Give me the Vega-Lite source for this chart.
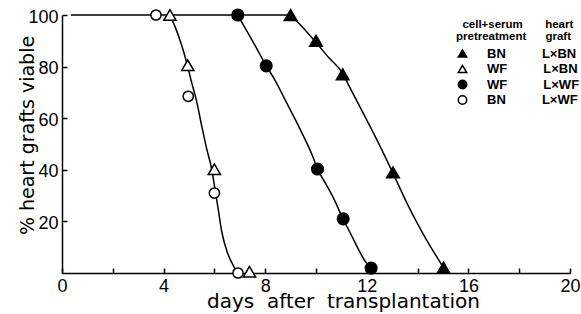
{
  "$schema": "https://vega.github.io/schema/vega-lite/v6.json",
  "width": 508,
  "height": 258,
  "autosize": {"type": "none"},
  "padding": {"left": 62, "top": 15, "right": 11, "bottom": 41},
  "background": "white",
  "config": {
    "view": {"stroke": null},
    "legend": {
      "orient": "none", "legendX": 394, "legendY": 4,
      "titleFont": "Liberation Sans", "titleFontSize": 11.5, "titleFontWeight": "bold", "titleColor": "black",
      "titleLineHeight": 12, "titlePadding": 4.5, "titleAlign": "left",
      "labelFont": "Liberation Sans", "labelFontSize": 13, "labelFontWeight": "bold", "labelColor": "black",
      "labelOffset": 18, "labelLimit": 300,
      "symbolSize": 70, "symbolStrokeWidth": 1.5, "rowPadding": 0.5
    }
  },
  "datasets": {
    "obs": [
      {"group": "A", "day": 9.0, "pct": 100},
      {"group": "A", "day": 10.0, "pct": 90},
      {"group": "A", "day": 11.05, "pct": 77},
      {"group": "A", "day": 13.03, "pct": 39},
      {"group": "A", "day": 15.02, "pct": 2},
      {"group": "B", "day": 4.25, "pct": 100},
      {"group": "B", "day": 4.95, "pct": 80.5},
      {"group": "B", "day": 6.0, "pct": 40.2},
      {"group": "B", "day": 7.38, "pct": 0.5},
      {"group": "C", "day": 6.92, "pct": 100},
      {"group": "C", "day": 8.04, "pct": 80.3},
      {"group": "C", "day": 10.06, "pct": 40.3},
      {"group": "C", "day": 11.07, "pct": 21},
      {"group": "C", "day": 12.17, "pct": 1.9},
      {"group": "D", "day": 3.7, "pct": 100},
      {"group": "D", "day": 4.97, "pct": 68.5},
      {"group": "D", "day": 6.0, "pct": 31},
      {"group": "D", "day": 6.93, "pct": 0}
    ],
    "curves": [
      {"curve": "top", "day": 0.35, "pct": 100},
      {"curve": "top", "day": 8.99, "pct": 100},
      {"curve": "open", "day": 4.24, "pct": 100},
      {"curve": "open", "day": 4.45, "pct": 95.5},
      {"curve": "open", "day": 4.72, "pct": 88},
      {"curve": "open", "day": 4.95, "pct": 80},
      {"curve": "open", "day": 5.1, "pct": 74},
      {"curve": "open", "day": 5.29, "pct": 67},
      {"curve": "open", "day": 5.5, "pct": 57},
      {"curve": "open", "day": 5.7, "pct": 48},
      {"curve": "open", "day": 5.9, "pct": 40},
      {"curve": "open", "day": 6.03, "pct": 32},
      {"curve": "open", "day": 6.13, "pct": 26},
      {"curve": "open", "day": 6.3, "pct": 15.5},
      {"curve": "open", "day": 6.52, "pct": 7.7},
      {"curve": "open", "day": 6.76, "pct": 2.6},
      {"curve": "open", "day": 6.93, "pct": 0},
      {"curve": "wfwf", "day": 6.91, "pct": 100},
      {"curve": "wfwf", "day": 7.15, "pct": 96},
      {"curve": "wfwf", "day": 7.61, "pct": 88},
      {"curve": "wfwf", "day": 8.04, "pct": 80.3},
      {"curve": "wfwf", "day": 8.4, "pct": 74.5},
      {"curve": "wfwf", "day": 8.79, "pct": 67},
      {"curve": "wfwf", "day": 9.39, "pct": 55.4},
      {"curve": "wfwf", "day": 9.9, "pct": 44.5},
      {"curve": "wfwf", "day": 10.06, "pct": 40.3},
      {"curve": "wfwf", "day": 10.37, "pct": 34.8},
      {"curve": "wfwf", "day": 10.69, "pct": 29},
      {"curve": "wfwf", "day": 11.06, "pct": 21},
      {"curve": "wfwf", "day": 11.35, "pct": 15.5},
      {"curve": "wfwf", "day": 11.68, "pct": 9},
      {"curve": "wfwf", "day": 11.94, "pct": 4.5},
      {"curve": "wfwf", "day": 12.17, "pct": 1.9},
      {"curve": "bnbn", "day": 8.99, "pct": 100},
      {"curve": "bnbn", "day": 9.5, "pct": 95},
      {"curve": "bnbn", "day": 9.97, "pct": 89.7},
      {"curve": "bnbn", "day": 10.5, "pct": 83.5},
      {"curve": "bnbn", "day": 11.06, "pct": 77.2},
      {"curve": "bnbn", "day": 11.28, "pct": 72.9},
      {"curve": "bnbn", "day": 12.0, "pct": 59.3},
      {"curve": "bnbn", "day": 12.53, "pct": 49},
      {"curve": "bnbn", "day": 13.03, "pct": 38.7},
      {"curve": "bnbn", "day": 13.58, "pct": 27.1},
      {"curve": "bnbn", "day": 13.98, "pct": 19.4},
      {"curve": "bnbn", "day": 14.5, "pct": 10.3},
      {"curve": "bnbn", "day": 14.83, "pct": 5.1},
      {"curve": "bnbn", "day": 15.02, "pct": 2}
    ]
  },
  "layer": [
    {
      "data": {"name": "curves"},
      "mark": {"type": "line", "interpolate": "monotone", "color": "black", "strokeWidth": 1.5},
      "encoding": {
        "x": {
          "field": "day", "type": "quantitative",
          "scale": {"domain": [0, 20], "nice": false, "zero": false},
          "axis": {
            "values": [0,1,2,3,4,5,6,7,8,9,10,11,12,13,14,15,16,17,18,19,20],
            "labelExpr": "datum.value % 4 === 0 ? datum.label : ''",
            "tickSize": -5, "tickWidth": 1.5, "tickColor": "black",
            "domainColor": "black", "domainWidth": 1.5, "grid": false,
            "labelFont": "Liberation Sans", "labelFontSize": 18, "labelColor": "black",
            "labelPadding": 9, "labelFlush": false, "labelOverlap": false,
            "title": "days\u00a0 after\u00a0 transplantation",
            "titleFont": "DejaVu Sans", "titleFontSize": 20, "titleFontWeight": "normal", "titleColor": "black",
            "titleX": 281, "titleY": 34, "titleBaseline": "alphabetic", "titleAlign": "center"
          }
        },
        "y": {
          "field": "pct", "type": "quantitative",
          "scale": {"domain": [0, 100], "nice": false},
          "axis": {
            "values": [20, 40, 60, 80, 100],
            "tickSize": -5, "tickWidth": 1.5, "tickColor": "black",
            "domainColor": "black", "domainWidth": 1.5, "grid": false,
            "labelFont": "Liberation Sans", "labelFontSize": 18, "labelColor": "black",
            "labelPadding": 9, "labelOffset": 2, "labelFlush": false, "labelOverlap": false,
            "title": "% heart grafts viable",
            "titleFont": "DejaVu Sans", "titleFontSize": 19, "titleFontWeight": "normal", "titleColor": "black",
            "titleX": -29, "titleY": 120, "titleAngle": 270, "titleBaseline": "alphabetic", "titleAlign": "center"
          }
        },
        "detail": {"field": "curve", "type": "nominal"}
      }
    },
    {
      "data": {"name": "obs"},
      "mark": {"type": "point", "filled": true, "strokeWidth": 1.5, "opacity": 1},
      "encoding": {
        "x": {"field": "day", "type": "quantitative"},
        "y": {"field": "pct", "type": "quantitative"},
        "size": {
          "condition": [
            {"test": "datum.group === 'A'", "value": 160},
            {"test": "datum.group === 'B'", "value": 150},
            {"test": "datum.group === 'C'", "value": 135}
          ],
          "value": 105
        },
        "shape": {
          "field": "group", "type": "nominal",
          "scale": {"domain": ["A", "B", "C", "D"], "range": ["triangle-up", "triangle-up", "circle", "circle"]},
          "legend": {
            "title": ["\u200b\u00a0\u00a0cell+serum\u00a0\u00a0\u00a0\u00a0\u00a0\u00a0\u00a0heart", "pretreatment\u00a0\u00a0\u00a0\u00a0\u00a0\u00a0graft"],
            "labelExpr": "datum.value === 'A' ? 'BN\u00a0\u00a0\u00a0\u00a0\u00a0\u00a0\u00a0\u00a0\u00a0\u00a0L×BN' : datum.value === 'B' ? 'WF\u00a0\u00a0\u00a0\u00a0\u00a0\u00a0\u00a0\u00a0\u00a0\u00a0L×BN' : datum.value === 'C' ? 'WF\u00a0\u00a0\u00a0\u00a0\u00a0\u00a0\u00a0\u00a0\u00a0\u00a0L×WF' : 'BN\u00a0\u00a0\u00a0\u00a0\u00a0\u00a0\u00a0\u00a0\u00a0\u00a0L×WF'"
          }
        },
        "fill": {
          "field": "group", "type": "nominal",
          "scale": {"domain": ["A", "B", "C", "D"], "range": ["black", "white", "black", "white"]},
          "legend": {
            "title": ["\u200b\u00a0\u00a0cell+serum\u00a0\u00a0\u00a0\u00a0\u00a0\u00a0\u00a0heart", "pretreatment\u00a0\u00a0\u00a0\u00a0\u00a0\u00a0graft"],
            "labelExpr": "datum.value === 'A' ? 'BN\u00a0\u00a0\u00a0\u00a0\u00a0\u00a0\u00a0\u00a0\u00a0\u00a0L×BN' : datum.value === 'B' ? 'WF\u00a0\u00a0\u00a0\u00a0\u00a0\u00a0\u00a0\u00a0\u00a0\u00a0L×BN' : datum.value === 'C' ? 'WF\u00a0\u00a0\u00a0\u00a0\u00a0\u00a0\u00a0\u00a0\u00a0\u00a0L×WF' : 'BN\u00a0\u00a0\u00a0\u00a0\u00a0\u00a0\u00a0\u00a0\u00a0\u00a0L×WF'"
          }
        },
        "stroke": {
          "field": "group", "type": "nominal",
          "scale": {"domain": ["A", "B", "C", "D"], "range": ["black", "black", "black", "black"]},
          "legend": {
            "title": ["\u200b\u00a0\u00a0cell+serum\u00a0\u00a0\u00a0\u00a0\u00a0\u00a0\u00a0heart", "pretreatment\u00a0\u00a0\u00a0\u00a0\u00a0\u00a0graft"],
            "labelExpr": "datum.value === 'A' ? 'BN\u00a0\u00a0\u00a0\u00a0\u00a0\u00a0\u00a0\u00a0\u00a0\u00a0L×BN' : datum.value === 'B' ? 'WF\u00a0\u00a0\u00a0\u00a0\u00a0\u00a0\u00a0\u00a0\u00a0\u00a0L×BN' : datum.value === 'C' ? 'WF\u00a0\u00a0\u00a0\u00a0\u00a0\u00a0\u00a0\u00a0\u00a0\u00a0L×WF' : 'BN\u00a0\u00a0\u00a0\u00a0\u00a0\u00a0\u00a0\u00a0\u00a0\u00a0L×WF'"
          }
        }
      }
    }
  ]
}
